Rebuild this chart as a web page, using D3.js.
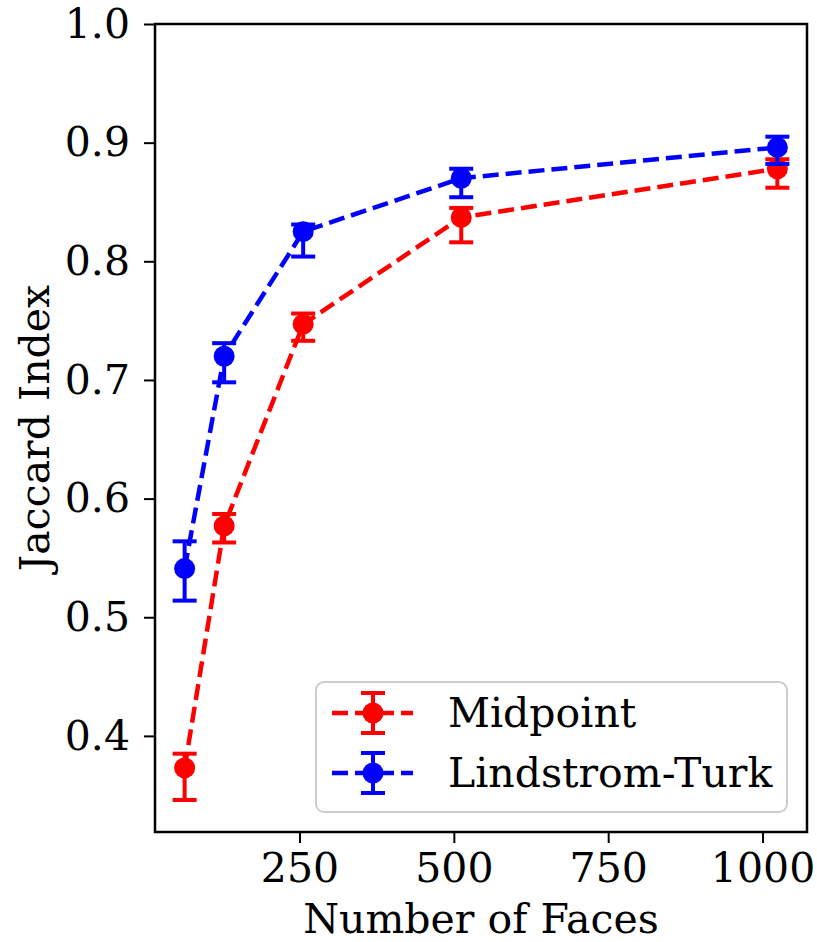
<!DOCTYPE html>
<html>
<head>
<meta charset="utf-8">
<script src="https://cdn.jsdelivr.net/npm/d3@7"></script>
<style>
    body { margin: 0; background: #fff; }
    text { font-family: "DejaVu Serif", serif; fill: #000; }
</style>
</head>
<body>
<div id="chart"></div>
<script>

// data
let faces = [64, 128, 256, 512, 1024];

let midpoint     = [0.373, 0.577, 0.747, 0.837, 0.878];
let midpointLow  = [0.346, 0.563, 0.733, 0.816, 0.862];
let midpointHigh = [0.385, 0.587, 0.756, 0.845, 0.886];

let lindstrom     = [0.541, 0.720, 0.825, 0.870, 0.896];
let lindstromLow  = [0.514, 0.698, 0.804, 0.854, 0.882];
let lindstromHigh = [0.564, 0.731, 0.831, 0.878, 0.905];

let xTicks = [250, 500, 750, 1000];
let yTicks = [0.4, 0.5, 0.6, 0.7, 0.8, 0.9, 1.0];

let seriesNames = ["Midpoint", "Lindstrom-Turk"];
let seriesColors = ["#ff0000", "#0000ff"];

let series = [
    {name: seriesNames[0], color: seriesColors[0], values: midpoint, low: midpointLow, high: midpointHigh},
    {name: seriesNames[1], color: seriesColors[1], values: lindstrom, low: lindstromLow, high: lindstromHigh}
];

let width = 817, height = 942;
let margin = {top: 24, right: 10, bottom: 110, left: 155};
let fontSize = 41;

let svg = d3.select("#chart").append("svg")
    .attr("width", width)
    .attr("height", height);

svg.append("rect")
    .attr("width", width)
    .attr("height", height)
    .attr("fill", "#fff");

// scales
let x = d3.scaleLinear()
    .domain([16, 1072])
    .range([margin.left, width - margin.right]);

let y = d3.scaleLinear()
    .domain([0.319, 1.0])
    .range([height - margin.bottom, margin.top]);

// axes
let xAxis = d3.axisBottom(x)
    .tickValues(xTicks)
    .tickSize(11)
    .tickSizeOuter(0)
    .tickPadding(10)
    .tickFormat(d3.format("d"));

let yAxis = d3.axisLeft(y)
    .tickValues(yTicks)
    .tickSize(11)
    .tickSizeOuter(0)
    .tickPadding(14)
    .tickFormat(d3.format(".1f"));

let xAxisGroup = svg.append("g")
    .attr("transform", `translate(0, ${height - margin.bottom})`)
    .call(xAxis);

let yAxisGroup = svg.append("g")
    .attr("transform", `translate(${margin.left}, 0)`)
    .call(yAxis);

[xAxisGroup, yAxisGroup].forEach(function(g) {
    g.select(".domain").remove();
    g.selectAll(".tick line").attr("stroke", "#000").attr("stroke-width", 2);
    g.selectAll(".tick text")
        .attr("font-family", "DejaVu Serif")
        .attr("font-size", fontSize)
        .attr("fill", "#000");
});

// axis labels
svg.append("text")
    .attr("x", (margin.left + width - margin.right) / 2)
    .attr("y", 933)
    .attr("text-anchor", "middle")
    .attr("font-size", fontSize)
    .text("Number of Faces");

svg.append("text")
    .attr("transform", `translate(49, ${(margin.top + height - margin.bottom) / 2}) rotate(-90)`)
    .attr("text-anchor", "middle")
    .attr("font-size", fontSize)
    .text("Jaccard Index");

// plot
let plot = svg.append("g");
let capHalf = 12;

series.forEach(function(s) {
    let pts = faces.map((f, i) => ({f: f, v: s.values[i], lo: s.low[i], hi: s.high[i]}));

    // error bars
    let eb = plot.append("g")
        .attr("stroke", s.color)
        .attr("stroke-width", 4);

    eb.selectAll(".bar")
        .data(pts)
        .enter().append("line")
        .attr("x1", d => x(d.f))
        .attr("x2", d => x(d.f))
        .attr("y1", d => y(d.lo))
        .attr("y2", d => y(d.hi));

    eb.selectAll(".cap-lo")
        .data(pts)
        .enter().append("line")
        .attr("x1", d => x(d.f) - capHalf)
        .attr("x2", d => x(d.f) + capHalf)
        .attr("y1", d => y(d.lo))
        .attr("y2", d => y(d.lo));

    eb.selectAll(".cap-hi")
        .data(pts)
        .enter().append("line")
        .attr("x1", d => x(d.f) - capHalf)
        .attr("x2", d => x(d.f) + capHalf)
        .attr("y1", d => y(d.hi))
        .attr("y2", d => y(d.hi));

    // dashed line
    plot.append("path")
        .datum(pts)
        .attr("fill", "none")
        .attr("stroke", s.color)
        .attr("stroke-width", 4.5)
        .attr("stroke-dasharray", "16,7")
        .attr("d", d3.line()
            .x(d => x(d.f))
            .y(d => y(d.v)));

    // markers
    plot.selectAll(null)
        .data(pts)
        .enter().append("circle")
        .attr("cx", d => x(d.f))
        .attr("cy", d => y(d.v))
        .attr("r", 10.5)
        .attr("fill", s.color);
});

// frame
svg.append("rect")
    .attr("x", margin.left)
    .attr("y", margin.top)
    .attr("width", width - margin.right - margin.left)
    .attr("height", height - margin.bottom - margin.top)
    .attr("fill", "none")
    .attr("stroke", "#000")
    .attr("stroke-width", 2.5);

// legend
let legend = svg.append("g")
    .attr("transform", "translate(316, 682)");

legend.append("rect")
    .attr("width", 471)
    .attr("height", 130)
    .attr("rx", 8)
    .attr("fill", "#fff")
    .attr("fill-opacity", 0.8)
    .attr("stroke", "#cccccc")
    .attr("stroke-width", 2);

series.forEach(function(s, i) {
    let row = legend.append("g")
        .attr("transform", `translate(0, ${31 + i * 60})`);

    row.append("line")
        .attr("x1", 16).attr("x2", 97)
        .attr("y1", 0).attr("y2", 0)
        .attr("stroke", s.color)
        .attr("stroke-width", 4.5)
        .attr("stroke-dasharray", "16,7");

    row.append("line")
        .attr("x1", 57).attr("x2", 57)
        .attr("y1", -20).attr("y2", 20)
        .attr("stroke", s.color)
        .attr("stroke-width", 4);

    [-20, 20].forEach(function(c) {
        row.append("line")
            .attr("x1", 57 - capHalf).attr("x2", 57 + capHalf)
            .attr("y1", c).attr("y2", c)
            .attr("stroke", s.color)
            .attr("stroke-width", 4);
    });

    row.append("circle")
        .attr("cx", 57)
        .attr("cy", 0)
        .attr("r", 10.5)
        .attr("fill", s.color);

    row.append("text")
        .attr("x", 132)
        .attr("dy", "0.35em")
        .attr("font-size", fontSize)
        .text(s.name);
});

</script>
</body>
</html>
